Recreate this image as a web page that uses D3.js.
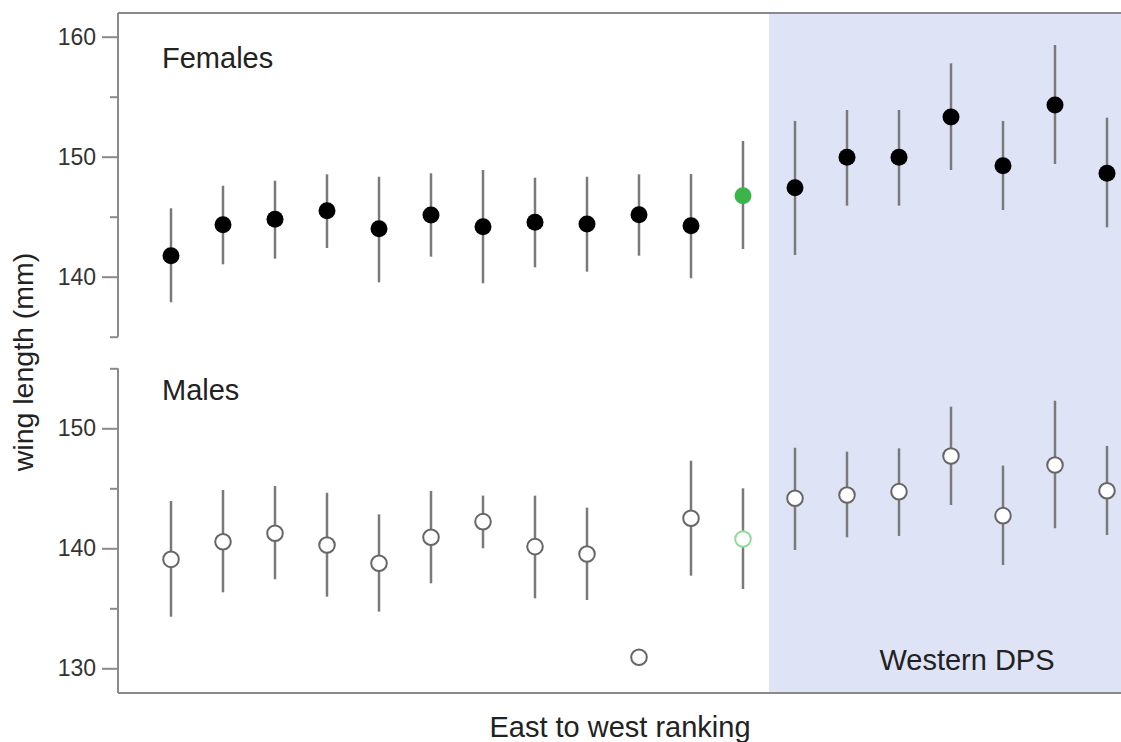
<!DOCTYPE html>
<html>
<head>
<meta charset="utf-8">
<script src="https://cdn.jsdelivr.net/npm/d3@7"></script>
<style>
  html, body { margin: 0; padding: 0; background: #fff; }
  svg { display: block; font-family: "Liberation Sans", Arial, sans-serif; }
</style>
</head>
<body>
<svg id="chart" width="1121" height="742"></svg>
<script>
// ---- data ----
const ranks = [1,2,3,4,5,6,7,8,9,10,11,12,13,14,15,16,17,18,19];
const femaleMean = [141.75,144.33,144.78,145.5,144.0,145.14,144.17,144.53,144.39,145.17,144.25,146.75,147.42,149.95,149.95,153.31,149.25,154.31,148.62];
const femaleLow  = [137.87,141.03,141.5,142.39,139.53,141.67,139.45,140.78,140.42,141.75,139.87,142.31,141.81,145.92,145.92,148.89,145.56,149.39,144.12];
const femaleHigh = [145.7,147.58,148.0,148.53,148.33,148.62,148.89,148.25,148.33,148.53,148.56,151.31,152.98,153.89,153.89,157.78,152.98,159.31,153.25];
const maleMean = [139.08,140.55,141.25,140.28,138.75,140.92,142.22,140.14,139.53,130.92,142.5,140.78,144.17,144.44,144.72,147.69,142.72,146.94,144.8];
const maleLow  = [134.3,136.33,137.42,135.97,134.72,137.08,140.0,135.83,135.69,null,137.72,136.61,139.86,140.92,141.03,143.61,138.61,141.67,141.11];
const maleHigh = [143.94,144.86,145.19,144.63,142.83,144.78,144.39,144.39,143.39,null,147.3,145.0,148.38,148.05,148.33,151.8,146.89,152.3,148.53];
const highlightRank = 12;      // green point
const westernStartRank = 13;   // first rank in shaded "Western DPS" block
const topTicks = [140,150,160];
const bottomTicks = [130,140,150];
const minorTicks = [135,145,155];
const panelLabels = ["Females","Males"];
const regionLabel = "Western DPS";
const xTitle = "East to west ranking";
const yTitle = "wing length (mm)";

// ---- layout ----
const svg = d3.select("#chart");
const frameLeft = 118, frameRight = 1124, frameTop = 13, frameBottom = 693;

const x = d3.scalePoint().domain(ranks).range([171, 1107]);
const yTop = d3.scaleLinear().domain([140,160]).range([276.7, 36.7]);
const yBot = d3.scaleLinear().domain([130,150]).range([668.3, 428.3]);

const frameColor = "#8a8a8a";
const barColor = "#7a7a7a";
const green = "#3bb54a";

// shaded western region
const shadeX = (x(highlightRank) + x(westernStartRank)) / 2;
svg.append("rect")
  .attr("x", shadeX).attr("y", frameTop)
  .attr("width", frameRight - shadeX).attr("height", frameBottom - frameTop)
  .attr("fill", "#dfe3f6");

// frame top & bottom
svg.append("line").attr("x1", frameLeft).attr("x2", frameRight).attr("y1", frameTop).attr("y2", frameTop)
  .attr("stroke", frameColor).attr("stroke-width", 2);
svg.append("line").attr("x1", frameLeft).attr("x2", frameRight).attr("y1", frameBottom).attr("y2", frameBottom)
  .attr("stroke", frameColor).attr("stroke-width", 2);

// left axis lines (broken)
svg.append("line").attr("x1", frameLeft).attr("x2", frameLeft)
  .attr("y1", frameTop).attr("y2", yTop(135))
  .attr("stroke", frameColor).attr("stroke-width", 2);
svg.append("line").attr("x1", frameLeft).attr("x2", frameLeft)
  .attr("y1", yBot(155)).attr("y2", frameBottom)
  .attr("stroke", frameColor).attr("stroke-width", 2);

function drawAxis(scale, major) {
  const gMaj = svg.append("g").attr("transform", `translate(${frameLeft},0)`)
    .call(d3.axisLeft(scale).tickValues(major).tickSize(16).tickPadding(6).tickFormat(d3.format("d")));
  gMaj.select(".domain").remove();
  gMaj.selectAll("line").attr("stroke", frameColor).attr("stroke-width", 2);
  gMaj.selectAll("text").attr("font-size", 23).attr("fill", "#333")
    .attr("font-family", "'Liberation Sans', Arial, sans-serif");
  const gMin = svg.append("g").attr("transform", `translate(${frameLeft},0)`)
    .call(d3.axisLeft(scale).tickValues(minorTicks).tickSize(8).tickFormat(""));
  gMin.select(".domain").remove();
  gMin.selectAll("line").attr("stroke", frameColor).attr("stroke-width", 2);
}
drawAxis(yTop, topTicks);
drawAxis(yBot, bottomTicks);

// error bars + points
function drawSeries(scale, mean, low, high, filled) {
  const data = ranks.map((r, i) => ({ r, m: mean[i], lo: low[i], hi: high[i] }));
  svg.append("g").selectAll("line").data(data.filter(d => d.lo != null))
    .join("line")
    .attr("x1", d => x(d.r)).attr("x2", d => x(d.r))
    .attr("y1", d => scale(d.hi)).attr("y2", d => scale(d.lo))
    .attr("stroke", barColor).attr("stroke-width", 2.5);
  svg.append("g").selectAll("circle").data(data)
    .join("circle")
    .attr("cx", d => x(d.r)).attr("cy", d => scale(d.m))
    .attr("r", filled ? 8.5 : 7.8)
    .attr("fill", d => filled ? (d.r === highlightRank ? green : "#000") : "#fff")
    .attr("stroke", d => filled ? "none" : (d.r === highlightRank ? "#8fdc9a" : "#666"))
    .attr("stroke-width", 2);
}
drawSeries(yTop, femaleMean, femaleLow, femaleHigh, true);
drawSeries(yBot, maleMean, maleLow, maleHigh, false);

// text labels
const txt = (s, xx, yy, anchor) => svg.append("text").text(s)
  .attr("x", xx).attr("y", yy).attr("text-anchor", anchor)
  .attr("font-size", 29).attr("fill", "#222");
txt(panelLabels[0], 162, 68, "start");
txt(panelLabels[1], 162, 400, "start");
txt(regionLabel, 967, 670, "middle");
txt(xTitle, 620, 737, "middle");
svg.append("text").text(yTitle)
  .attr("transform", "translate(33,362) rotate(-90)")
  .attr("text-anchor", "middle").attr("font-size", 28.5).attr("fill", "#222");
</script>
</body>
</html>
